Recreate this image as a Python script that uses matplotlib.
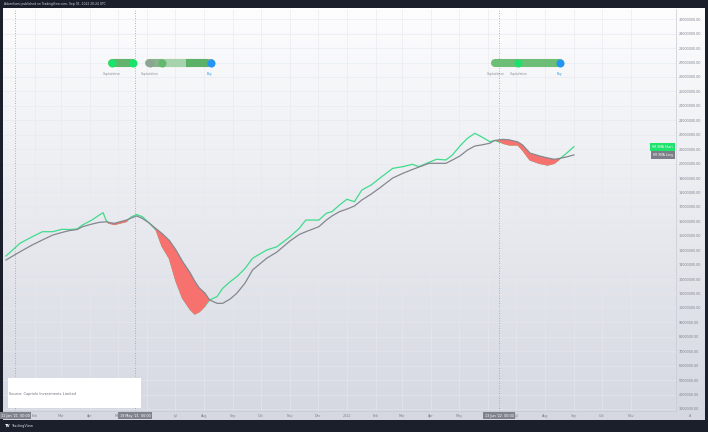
"""
Hash ribbons chart (HR SMA short / long) in a TradingView style frame.
"""
import datetime as dt
import numpy as np
import matplotlib
matplotlib.use("Agg")
import matplotlib.pyplot as plt
import matplotlib.dates as mdates
import matplotlib.transforms as mtransforms
from matplotlib.patches import Rectangle

# hash rate moving averages, values in millions
dates = [
    "2021-01-01", "2021-01-16", "2021-01-29", "2021-02-09", "2021-02-20", "2021-03-02",
    "2021-03-10", "2021-03-18", "2021-03-24", "2021-04-03", "2021-04-11", "2021-04-15",
    "2021-04-18", "2021-04-21", "2021-04-27", "2021-05-02", "2021-05-10", "2021-05-15",
    "2021-05-21", "2021-05-27", "2021-06-03", "2021-06-11", "2021-06-17", "2021-06-25",
    "2021-07-02", "2021-07-09", "2021-07-17", "2021-07-22", "2021-07-27", "2021-08-02",
    "2021-08-07", "2021-08-15", "2021-08-21", "2021-08-29", "2021-09-05", "2021-09-14",
    "2021-09-22", "2021-10-07", "2021-10-18", "2021-11-01", "2021-11-11", "2021-11-18",
    "2021-12-02", "2021-12-10", "2021-12-16", "2021-12-24", "2022-01-01", "2022-01-09",
    "2022-01-17", "2022-01-27", "2022-02-05", "2022-02-19", "2022-03-02", "2022-03-12",
    "2022-03-19", "2022-03-30", "2022-04-07", "2022-04-17", "2022-04-24", "2022-05-02",
    "2022-05-10", "2022-05-18", "2022-05-25", "2022-06-03", "2022-06-08", "2022-06-17",
    "2022-06-24", "2022-07-03", "2022-07-08", "2022-07-16", "2022-07-26", "2022-08-04",
    "2022-08-11", "2022-08-16", "2022-08-24", "2022-09-01",
]
hr_sma_short = [
    13.60, 14.48, 14.93, 15.28, 15.28, 15.45, 15.43, 15.47, 15.75, 16.09, 16.44, 16.60,
    16.09, 15.88, 15.78, 15.86, 15.99, 16.30, 16.47, 16.32, 15.90, 15.36, 14.29, 13.42,
    11.86, 10.69, 9.92, 9.58, 9.74, 10.13, 10.55, 10.79, 11.36, 11.82, 12.16, 12.74,
    13.44, 14.01, 14.24, 14.93, 15.52, 16.09, 16.09, 16.56, 16.67, 17.13, 17.53, 17.36,
    18.17, 18.52, 18.98, 19.67, 19.79, 19.95, 19.79, 20.09, 20.30, 20.25, 20.60, 21.22,
    21.75, 22.10, 21.86, 21.52, 21.60, 21.41, 21.29, 21.29, 20.94, 20.25, 20.02, 19.90,
    20.02, 20.28, 20.71, 21.17,
]
hr_sma_long = [
    13.32, 13.89, 14.36, 14.71, 15.05, 15.23, 15.36, 15.43, 15.63, 15.81, 15.93, 15.95,
    15.97, 15.92, 15.86, 15.95, 16.09, 16.23, 16.37, 16.20, 15.90, 15.47, 15.16, 14.67,
    14.01, 13.22, 12.45, 11.86, 11.38, 11.03, 10.55, 10.32, 10.32, 10.62, 11.01, 11.73,
    12.63, 13.44, 13.87, 14.64, 15.09, 15.28, 15.63, 16.09, 16.37, 16.67, 16.85, 17.06,
    17.48, 17.89, 18.31, 19.00, 19.33, 19.59, 19.76, 20.02, 20.02, 20.02, 20.25, 20.53,
    20.94, 21.22, 21.29, 21.41, 21.60, 21.68, 21.64, 21.50, 21.29, 20.73, 20.53, 20.39,
    20.30, 20.35, 20.46, 20.60,
]

# drawn vertical markers and their axis labels
marker_dates = ["2021-01-11", "2021-05-19", "2022-06-13"]
marker_labels = ["11 Jan '21  00:00", "19 May '21  00:00", "13 Jun '22  00:00"]

# signal pills: (start, end)
pill_ranges = [("2021-04-24", "2021-05-17"), ("2021-06-03", "2021-08-08"),
               ("2022-06-09", "2022-08-17")]

W, H = 708, 432
GREEN = "#3fdc8b"
GRAY = "#85878f"
RED = "#f7716f"
TXT = "#7f828c"


def d(s):
    return mdates.date2num(dt.datetime.strptime(s, "%Y-%m-%d"))


def fr(x0, y0, x1, y1):
    """pixel box -> figure fraction rect"""
    return [x0 / W, 1 - y1 / H, (x1 - x0) / W, (y1 - y0) / H]


def main():
    x = np.array([d(s) for s in dates])
    short = np.array(hr_sma_short)
    long_ = np.array(hr_sma_long)

    fig = plt.figure(figsize=(W / 100, H / 100), dpi=100, facecolor="#1b1f2b")

    # background gradient of the whole chart panel
    bg = fig.add_axes(fr(3, 8, 705, 420), zorder=-1)
    grad = np.linspace(0, 1, 256)[:, None]
    top = np.array([253, 253, 254]) / 255
    bot = np.array([213, 216, 225]) / 255
    img = top[None, None, :] * (1 - grad[:, :, None]) + bot[None, None, :] * grad[:, :, None]
    bg.imshow(img, aspect="auto", extent=[0, 1, 0, 1])
    bg.set_axis_off()

    ax = fig.add_axes(fr(3, 9, 676, 411))
    ax.set_facecolor("none")

    ax.plot(x, short, color=GREEN, lw=0.9, zorder=3)
    ax.fill_between(x, short, long_, where=short < long_, interpolate=True,
                    color=RED, lw=0, zorder=4)
    ax.plot(x, np.ma.masked_where(short >= long_, short), color=RED, lw=0.9, zorder=4)
    ax.plot(x, long_, color=GRAY, lw=0.9, zorder=5)

    start = d("2021-01-01")
    ax.set_xlim(start - 3.2, start + 717.3)
    ax.set_ylim(2.86, 30.71)

    # y axis on the right
    ax.yaxis.tick_right()
    ax.set_yticks(np.arange(3, 31, 1))
    ax.set_yticklabels([f"{v * 1e6:.2f}" for v in np.arange(3, 31, 1)])
    ax.tick_params(axis="y", length=0, pad=2.2, labelsize=2.4, labelcolor=TXT)

    # month ticks; the ones fully hidden behind a date box get no label
    months = [dt.date(2021, m, 1) for m in range(2, 13)] + \
             [dt.date(2022, m, 1) for m in range(1, 12)]
    mnums = [mdates.date2num(m) for m in months]
    marks = [d(s) for s in marker_dates]
    labels = []
    for m, mn in zip(months, mnums):
        if min(abs(mn - k) for k in marks) < 15:
            labels.append("")
        else:
            labels.append("2022" if m.month == 1 else m.strftime("%b"))
    ax.set_xticks(mnums)
    ax.set_xticklabels(labels)
    ax.tick_params(axis="x", length=0, pad=2.2, labelsize=2.4, labelcolor=TXT)

    ax.grid(color="#e6e8ed", lw=0.4, zorder=0)
    for side in ["top", "left"]:
        ax.spines[side].set_visible(False)
    for side in ["right", "bottom"]:
        ax.spines[side].set_color("#c8cbd3")
        ax.spines[side].set_linewidth(0.5)

    # dotted markers with date boxes on the time axis
    bt = mtransforms.blended_transform_factory(ax.transData, ax.transAxes)
    for md, ml in zip(marker_dates, marker_labels):
        ax.axvline(d(md), color="#9a9ca5", ls=(0, (1, 2)), lw=0.6, zorder=1)
        ax.text(d(md), -0.0117, ml, transform=bt, ha="center", va="center",
                fontsize=2.4, color="white", clip_on=False, zorder=10,
                bbox=dict(boxstyle="square,pad=0.5", fc="#80838d", ec="none"))

    # signal pills
    py, ly = 26.95, 26.21
    p1, p2, p3 = pill_ranges
    lw_p, ms_p = 5.8, 5.8
    ax.plot([d(p1[0]), d(p1[1])], [py, py], color="#52c96b", lw=lw_p,
            solid_capstyle="round", zorder=6)
    ax.plot([d("2021-05-01"), d("2021-05-10")], [py, py], color="#62b46d", lw=lw_p, zorder=6)
    ax.plot([d(p1[0]), d(p1[1])], [py, py], "o", color="#19e36c", ms=ms_p, mew=0, zorder=7)

    ax.plot([d(p2[0]), d(p2[1])], [py, py], color="#86b58c", lw=lw_p,
            solid_capstyle="round", zorder=6)
    ax.plot([d("2021-06-22"), d("2021-07-17")], [py, py], color="#a6d3ab", lw=lw_p, zorder=6)
    ax.plot([d("2021-07-17"), d("2021-08-01")], [py, py], color="#5cb168", lw=lw_p, zorder=6)
    ax.plot(d("2021-06-04"), py, "o", color="#8fa392", ms=ms_p, mew=0, zorder=7)
    ax.plot(d("2021-06-17"), py, "o", color="#62b86d", ms=ms_p, mew=0, zorder=7)
    ax.plot(d(p2[1]), py, "o", color="#2196f3", ms=ms_p, mew=0, zorder=7)

    ax.plot([d(p3[0]), d(p3[1])], [py, py], color="#6cbd76", lw=lw_p,
            solid_capstyle="round", zorder=6)
    ax.plot(d("2022-07-03"), py, "o", color="#1fe06c", ms=ms_p, mew=0, zorder=7)
    ax.plot(d(p3[1]), py, "o", color="#2196f3", ms=ms_p, mew=0, zorder=7)

    for lx, lt, lc in [("2021-04-24", "Capitulation", "#8b8e98"),
                       ("2021-06-04", "Capitulation", "#8b8e98"),
                       ("2021-08-07", "Buy", "#2196f3"),
                       ("2022-06-09", "Capitulation", "#8b8e98"),
                       ("2022-07-04", "Capitulation", "#8b8e98"),
                       ("2022-08-17", "Buy", "#2196f3")]:
        ax.text(d(lx), ly, lt, ha="center", va="center", fontsize=2.2, color=lc, zorder=7)

    # series name tags at last values
    tt = mtransforms.blended_transform_factory(ax.transAxes, ax.transData)
    ax.text(0.9955, short[-1], "HR SMA Short", transform=tt, ha="right", va="center",
            fontsize=2.2, color="white", zorder=10,
            bbox=dict(boxstyle="square,pad=0.6", fc="#1ee36d", ec="none"))
    ax.text(0.9955, long_[-1], "HR SMA Long", transform=tt, ha="right", va="center",
            fontsize=2.2, color="white", zorder=10,
            bbox=dict(boxstyle="square,pad=0.6", fc="#7b7e88", ec="none"))

    # source box
    ax.add_patch(Rectangle((0.0074, 0.0075), 0.198, 0.0745, transform=ax.transAxes,
                           fc="white", ec="none", zorder=8))
    ax.text(0.009, 0.042, "Source: Capriole Investments Limited", transform=ax.transAxes,
            ha="left", va="center", fontsize=2.5, color="#6a6d78", zorder=9)

    # frame texts
    fig.text(4 / W, 1 - 4 / H, "Adamfiumi published on TradingView.com, Sep 01, 2022 20:24 UTC",
             ha="left", va="center", fontsize=2.2, color="#d1d4dc")
    fig.text(5 / W, 1 - 426 / H, "TV", ha="left", va="center", fontsize=2.8,
             color="white", fontweight="bold")
    fig.text(11 / W, 1 - 426 / H, "TradingView", ha="left", va="center", fontsize=2.6,
             color="#d1d4dc")
    fig.text(690 / W, 1 - 415.7 / H, "A", ha="center", va="center", fontsize=2.4, color=TXT)

    fig.savefig("out.png", dpi=100, facecolor=fig.get_facecolor())


if __name__ == "__main__":
    main()
